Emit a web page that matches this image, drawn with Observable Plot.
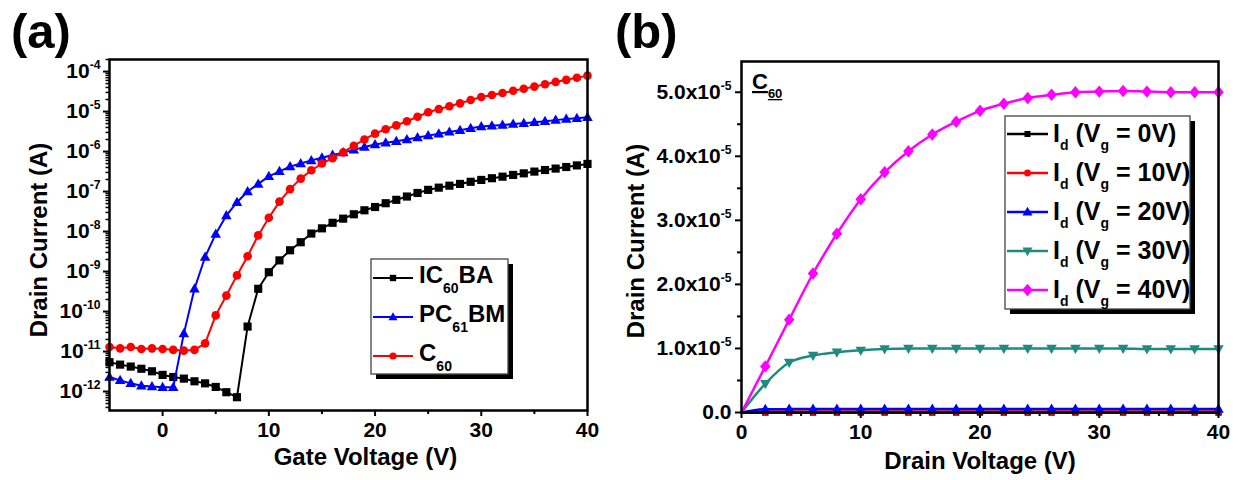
<!DOCTYPE html>
<html>
<head>
<meta charset="utf-8">
<script src="https://cdn.jsdelivr.net/npm/d3@7"></script>
<script src="https://cdn.jsdelivr.net/npm/@observablehq/plot@0.6"></script>
<style>
  html, body { margin: 0; padding: 0; background: #fff; }
  #fig { position: relative; width: 1241px; height: 480px; overflow: hidden; }
  #fig svg { position: absolute; top: 0; }
</style>
</head>
<body>
<div id="fig"></div>
<script>
const FONT = "'Liberation Sans', Arial, Helvetica, sans-serif";

// ---------- (a) transfer characteristics: drain current vs gate voltage ----------
const gateV = [-5, -4, -3, -2, -1, 0, 1, 2, 3, 4, 5, 6, 7, 8, 9, 10, 11, 12, 13, 14, 15,
  16, 17, 18, 19, 20, 21, 22, 23, 24, 25, 26, 27, 28, 29, 30, 31, 32, 33, 34, 35, 36, 37, 38, 39, 40];

const idIC60BA = [5.4e-12, 4.7e-12, 4.2e-12, 3.7e-12, 3.2e-12, 2.6e-12, 2.3e-12, 2.1e-12, 1.8e-12, 1.6e-12,
  1.3e-12, 9.6e-13, 7.2e-13, 4.2e-11, 3.7e-10, 9.6e-10, 1.9e-9, 3.4e-9, 5.4e-9, 8.9e-9,
  1.2e-8, 1.65e-8, 2.1e-8, 2.7e-8, 3.4e-8, 4.1e-8, 5.1e-8, 6.2e-8, 7.5e-8, 9.2e-8,
  1.1e-7, 1.25e-7, 1.4e-7, 1.55e-7, 1.75e-7, 1.95e-7, 2.15e-7, 2.35e-7, 2.6e-7, 2.85e-7,
  3.15e-7, 3.45e-7, 3.75e-7, 4.1e-7, 4.5e-7, 4.9e-7];

const idPC61BM = [2.3e-12, 1.9e-12, 1.6e-12, 1.4e-12, 1.33e-12, 1.28e-12, 1.28e-12, 2.8e-11, 3.7e-10, 2.3e-9,
  8.7e-9, 2.5e-8, 5.4e-8, 1.0e-7, 1.55e-7, 2.4e-7, 3.2e-7, 4.2e-7, 5.0e-7, 6.0e-7,
  7.0e-7, 8.2e-7, 9.4e-7, 1.1e-6, 1.3e-6, 1.5e-6, 1.65e-6, 1.8e-6, 2.0e-6, 2.25e-6,
  2.5e-6, 2.8e-6, 3.1e-6, 3.4e-6, 3.8e-6, 4.2e-6, 4.4e-6, 4.6e-6, 4.85e-6, 5.1e-6,
  5.4e-6, 5.7e-6, 6.1e-6, 6.5e-6, 6.8e-6, 7.2e-6];

const idC60 = [1.3e-11, 1.2e-11, 1.3e-11, 1.15e-11, 1.2e-11, 1.15e-11, 1.1e-11, 1.05e-11, 1.1e-11, 1.6e-11,
  8.0e-11, 2.5e-10, 8.0e-10, 2.4e-9, 8.0e-9, 2.2e-8, 5.6e-8, 1.15e-7, 2.1e-7, 3.4e-7,
  5.0e-7, 6.8e-7, 9.5e-7, 1.4e-6, 2.0e-6, 2.8e-6, 3.6e-6, 4.5e-6, 5.7e-6, 7.4e-6,
  9.6e-6, 1.15e-5, 1.35e-5, 1.6e-5, 1.95e-5, 2.3e-5, 2.6e-5, 2.9e-5, 3.3e-5, 3.7e-5,
  4.2e-5, 4.8e-5, 5.5e-5, 6.2e-5, 7.0e-5, 7.9e-5];

const legendA = [["IC", "60", "BA"], ["PC", "61", "BM"], ["C", "60"]];
const colorsA = ["#000000", "#0000ff", "#ff0000"];
const xTicksA = [0, 10, 20, 30, 40];
const xMinorA = [5, 15, 25, 35];
const yTicksA = [1e-12, 1e-11, 1e-10, 1e-9, 1e-8, 1e-7, 1e-6, 1e-5, 1e-4];
const xTitleA = "Gate Voltage (V)";

// ---------- (b) output characteristics: drain current vs drain voltage ----------
const drainV = [0, 2, 4, 6, 8, 10, 12, 14, 16, 18, 20, 22, 24, 26, 28, 30, 32, 34, 36, 38, 40];
const idVg0  = [0, 0, 0, 0, 0, 0, 0, 0, 0, 0, 0, 0, 0, 0, 0, 0, 0, 0, 0, 0, 0];
const idVg10 = [0, 1.4e-7, 1.5e-7, 1.5e-7, 1.5e-7, 1.5e-7, 1.5e-7, 1.5e-7, 1.5e-7, 1.5e-7, 1.5e-7,
  1.5e-7, 1.5e-7, 1.5e-7, 1.5e-7, 1.5e-7, 1.5e-7, 1.5e-7, 1.5e-7, 1.5e-7, 1.5e-7];
const idVg20 = [0, 5.0e-7, 5.3e-7, 5.4e-7, 5.4e-7, 5.4e-7, 5.4e-7, 5.4e-7, 5.4e-7, 5.4e-7, 5.4e-7,
  5.4e-7, 5.4e-7, 5.4e-7, 5.4e-7, 5.4e-7, 5.4e-7, 5.4e-7, 5.4e-7, 5.4e-7, 5.4e-7];
const idVg30 = [0, 4.5e-6, 7.8e-6, 8.9e-6, 9.4e-6, 9.7e-6, 9.9e-6, 1.0e-5, 1.0e-5, 1.0e-5, 1.0e-5,
  1.0e-5, 1.0e-5, 1.0e-5, 1.0e-5, 1.0e-5, 1.0e-5, 9.9e-6, 9.9e-6, 9.9e-6, 9.9e-6];
const idVg40 = [0, 7.2e-6, 1.45e-5, 2.17e-5, 2.79e-5, 3.33e-5, 3.75e-5, 4.08e-5, 4.34e-5, 4.54e-5, 4.71e-5,
  4.82e-5, 4.91e-5, 4.96e-5, 5.0e-5, 5.01e-5, 5.02e-5, 5.01e-5, 5.0e-5, 5.0e-5, 5.0e-5];

const legendB = [
  ["I", "d", " (V", "g", " = 0V)"],
  ["I", "d", " (V", "g", " = 10V)"],
  ["I", "d", " (V", "g", " = 20V)"],
  ["I", "d", " (V", "g", " = 30V)"],
  ["I", "d", " (V", "g", " = 40V)"]
];
const colorsB = ["#000000", "#ff0000", "#0000ff", "#1f8a80", "#ff00ff"];
const xTicksB = [0, 10, 20, 30, 40];
const xMinorB = [5, 15, 25, 35];
const yTicksB = [0, 1e-5, 2e-5, 3e-5, 4e-5, 5e-5];
const yMinorB = [0.5e-5, 1.5e-5, 2.5e-5, 3.5e-5, 4.5e-5];
const xTitleB = "Drain Voltage (V)";
const materialB = ["C", "60"];

const yTitle = "Drain Current (A)";

// ---------- marker shapes ----------
const triUp = {draw(c, s) { const r = Math.sqrt(s / Math.PI);
  c.moveTo(0, -1.25 * r); c.lineTo(1.2 * r, 0.85 * r); c.lineTo(-1.2 * r, 0.85 * r); c.closePath(); }};
const triDown = {draw(c, s) { const r = Math.sqrt(s / Math.PI);
  c.moveTo(0, 1.25 * r); c.lineTo(1.2 * r, -0.85 * r); c.lineTo(-1.2 * r, -0.85 * r); c.closePath(); }};
const diamond = {draw(c, s) { const r = Math.sqrt(s / Math.PI);
  c.moveTo(0, -1.35 * r); c.lineTo(1.15 * r, 0); c.lineTo(0, 1.35 * r); c.lineTo(-1.15 * r, 0); c.closePath(); }};

const symbolsA = [d3.symbolSquare, triUp, d3.symbolCircle];
const radiiA = [4.6, 4.4, 4.3];
const symbolsB = [d3.symbolSquare, d3.symbolCircle, triUp, triDown, diamond];
const radiiB = [3.6, 3.4, 4.4, 4.4, 4.6];

// "10^-4" → "10" with a raised exponent
function raiseExponents(svg) {
  d3.select(svg).selectAll("text").each(function () {
    const s = this.textContent;
    const k = s.indexOf("^");
    if (k < 0) return;
    const el = d3.select(this);
    el.text(null);
    el.append("tspan").text(s.slice(0, k));
    el.append("tspan").attr("font-size", "0.58em").attr("dy", "-0.75em").text(s.slice(k + 1));
  });
}

function drawLegend(svg, o) {
  const g = d3.select(svg).append("g")
    .attr("font-family", FONT).attr("font-weight", "bold").attr("text-anchor", "start")
    .style("white-space", "pre");
  g.append("rect").attr("x", o.x + 5).attr("y", o.y + 5).attr("width", o.w).attr("height", o.h).attr("fill", "#000");
  g.append("rect").attr("x", o.x).attr("y", o.y).attr("width", o.w).attr("height", o.h)
    .attr("fill", "#fff").attr("stroke", "#444").attr("stroke-width", 1.3);
  o.labels.forEach((parts, k) => {
    const cy = o.y0 + k * o.gap;
    g.append("line").attr("x1", o.lx).attr("x2", o.lx + o.len).attr("y1", cy).attr("y2", cy)
      .attr("stroke", o.colors[k]).attr("stroke-width", o.lw);
    g.append("path").attr("transform", `translate(${o.lx + o.len / 2},${cy})`)
      .attr("d", d3.symbol(o.symbols[k], Math.PI * o.r[k] * o.r[k])()).attr("fill", o.colors[k]);
    const t = g.append("text").attr("x", o.tx).attr("y", cy + o.base).attr("font-size", o.fs);
    let down = false;
    parts.forEach((p, j) => {
      const sub = j % 2 === 1;
      const ts = t.append("tspan").text(p).attr("font-size", sub ? o.subFs : o.fs);
      if (sub !== down) { ts.attr("dy", sub ? o.subDy : -o.subDy); down = sub; }
    });
  });
}

function panelTag(svg, label, x) {
  d3.select(svg).append("text").attr("x", x).attr("y", 48).attr("text-anchor", "start")
    .attr("font-family", FONT).attr("font-weight", "bold").attr("font-size", 49).text(label);
}

const fig = document.getElementById("fig");

// ---------- panel (a) ----------
{
  const yDom = [3.35e-13, 2.0e-4];
  const minor = [];
  for (let e = -13; e <= -4; e++) for (let m = 2; m <= 9; m++) {
    const t = m * Math.pow(10, e);
    if (t >= yDom[0] && t <= yDom[1]) minor.push(t);
  }
  const rows = [idIC60BA, idPC61BM, idC60].map(vals => vals.map((i, j) => ({v: gateV[j], i})));
  const svg = Plot.plot({
    width: 600, height: 480,
    marginLeft: 109, marginRight: 13, marginTop: 59, marginBottom: 70,
    style: {fontFamily: FONT, fontWeight: "bold", color: "#000", background: "transparent", overflow: "visible"},
    x: {domain: [-5, 40], label: null},
    y: {type: "log", domain: yDom, label: null},
    marks: [
      ...rows.flatMap((r, k) => [
        Plot.line(r, {x: "v", y: "i", stroke: colorsA[k], strokeWidth: 2}),
        Plot.dot(r, {x: "v", y: "i", symbol: symbolsA[k], r: radiiA[k], fill: colorsA[k]})
      ]),
      Plot.axisX({ticks: xTicksA, tickSize: 6, tickPadding: 6, strokeWidth: 2, fontSize: 21, label: null, tickFormat: d => String(d)}),
      Plot.axisX({ticks: xMinorA, tickSize: 4, strokeWidth: 2, label: null, tickFormat: () => ""}),
      Plot.axisY({ticks: yTicksA, tickSize: 6, tickPadding: 3, strokeWidth: 2, fontSize: 21, label: null,
        tickFormat: d => "10^-" + Math.round(-Math.log10(d))}),
      Plot.axisY({ticks: minor, tickSize: 3.5, strokeWidth: 1.5, label: null, tickFormat: () => ""}),
      Plot.frame({stroke: "#000", strokeWidth: 2.5}),
      Plot.text([xTitleA], {text: d => d, frameAnchor: "bottom", textAnchor: "middle", lineAnchor: "middle",
        dx: 17, dy: 47, fontSize: 24, fontWeight: "bold"}),
      Plot.text([yTitle], {text: d => d, frameAnchor: "left", textAnchor: "middle", lineAnchor: "middle",
        dx: -70, dy: 5, rotate: -90, fontSize: 24, fontWeight: "bold"})
    ]
  });
  svg.style.left = "0px";
  raiseExponents(svg);
  drawLegend(svg, {
    x: 371, y: 259, w: 137, h: 115, lx: 373, len: 40, lw: 2, tx: 419,
    y0: 278, gap: 39, base: 5, fs: 24, subFs: 14, subDy: 10,
    labels: legendA, colors: colorsA, symbols: symbolsA, r: [3.6, 3.8, 3.6]
  });
  panelTag(svg, "(a)", 11);
  fig.appendChild(svg);
}

// ---------- panel (b) ----------
{
  const rows = [idVg0, idVg10, idVg20, idVg30, idVg40].map(vals => vals.map((i, j) => ({v: drainV[j], i})));
  const svg = Plot.plot({
    width: 641, height: 480,
    marginLeft: 141, marginRight: 23, marginTop: 61, marginBottom: 68,
    style: {fontFamily: FONT, fontWeight: "bold", color: "#000", background: "transparent", overflow: "visible"},
    x: {domain: [0, 40], label: null},
    y: {domain: [0, 5.48e-5], label: null},
    marks: [
      ...rows.flatMap((r, k) => [
        Plot.line(r, {x: "v", y: "i", stroke: colorsB[k], strokeWidth: 2.5, curve: "monotone-x"}),
        Plot.dot(r.filter(d => d.v > 0), {x: "v", y: "i", symbol: symbolsB[k], r: radiiB[k], fill: colorsB[k]})
      ]),
      Plot.axisX({ticks: xTicksB, tickSize: 6, tickPadding: 6, strokeWidth: 2, fontSize: 21, label: null, tickFormat: d => String(d)}),
      Plot.axisX({ticks: xMinorB, tickSize: 4, strokeWidth: 2, label: null, tickFormat: () => ""}),
      Plot.axisY({ticks: yTicksB, tickSize: 6, tickPadding: 4, strokeWidth: 2, fontSize: 21, label: null,
        tickFormat: d => d === 0 ? "0.0" : (d * 1e5).toFixed(1) + "x10^-5"}),
      Plot.axisY({ticks: yMinorB, tickSize: 4, strokeWidth: 2, label: null, tickFormat: () => ""}),
      Plot.frame({stroke: "#000", strokeWidth: 2.5}),
      Plot.text([xTitleB], {text: d => d, frameAnchor: "bottom", textAnchor: "middle", lineAnchor: "middle",
        dy: 49, fontSize: 24, fontWeight: "bold"}),
      Plot.text([yTitle], {text: d => d, frameAnchor: "left", textAnchor: "middle", lineAnchor: "middle",
        dx: -105, dy: 4, rotate: -90, fontSize: 24, fontWeight: "bold"})
    ]
  });
  svg.style.left = "600px";
  raiseExponents(svg);
  // material label, underlined
  const tag = d3.select(svg).append("text").attr("x", 152).attr("y", 89).attr("text-anchor", "start")
    .attr("font-family", FONT).attr("font-weight", "bold").style("text-decoration", "underline");
  tag.append("tspan").attr("font-size", 22).text(materialB[0]);
  tag.append("tspan").attr("font-size", 13).attr("dy", 9).text(materialB[1]);
  drawLegend(svg, {
    x: 405, y: 116, w: 185, h: 193, lx: 407, len: 41, lw: 2.5, tx: 453,
    y0: 134, gap: 39, base: 8, fs: 25, subFs: 14, subDy: 8,
    labels: legendB, colors: colorsB, symbols: symbolsB, r: [3.4, 3.4, 4.2, 4.2, 4.6]
  });
  panelTag(svg, "(b)", 15);
  fig.appendChild(svg);
}
</script>
</body>
</html>
